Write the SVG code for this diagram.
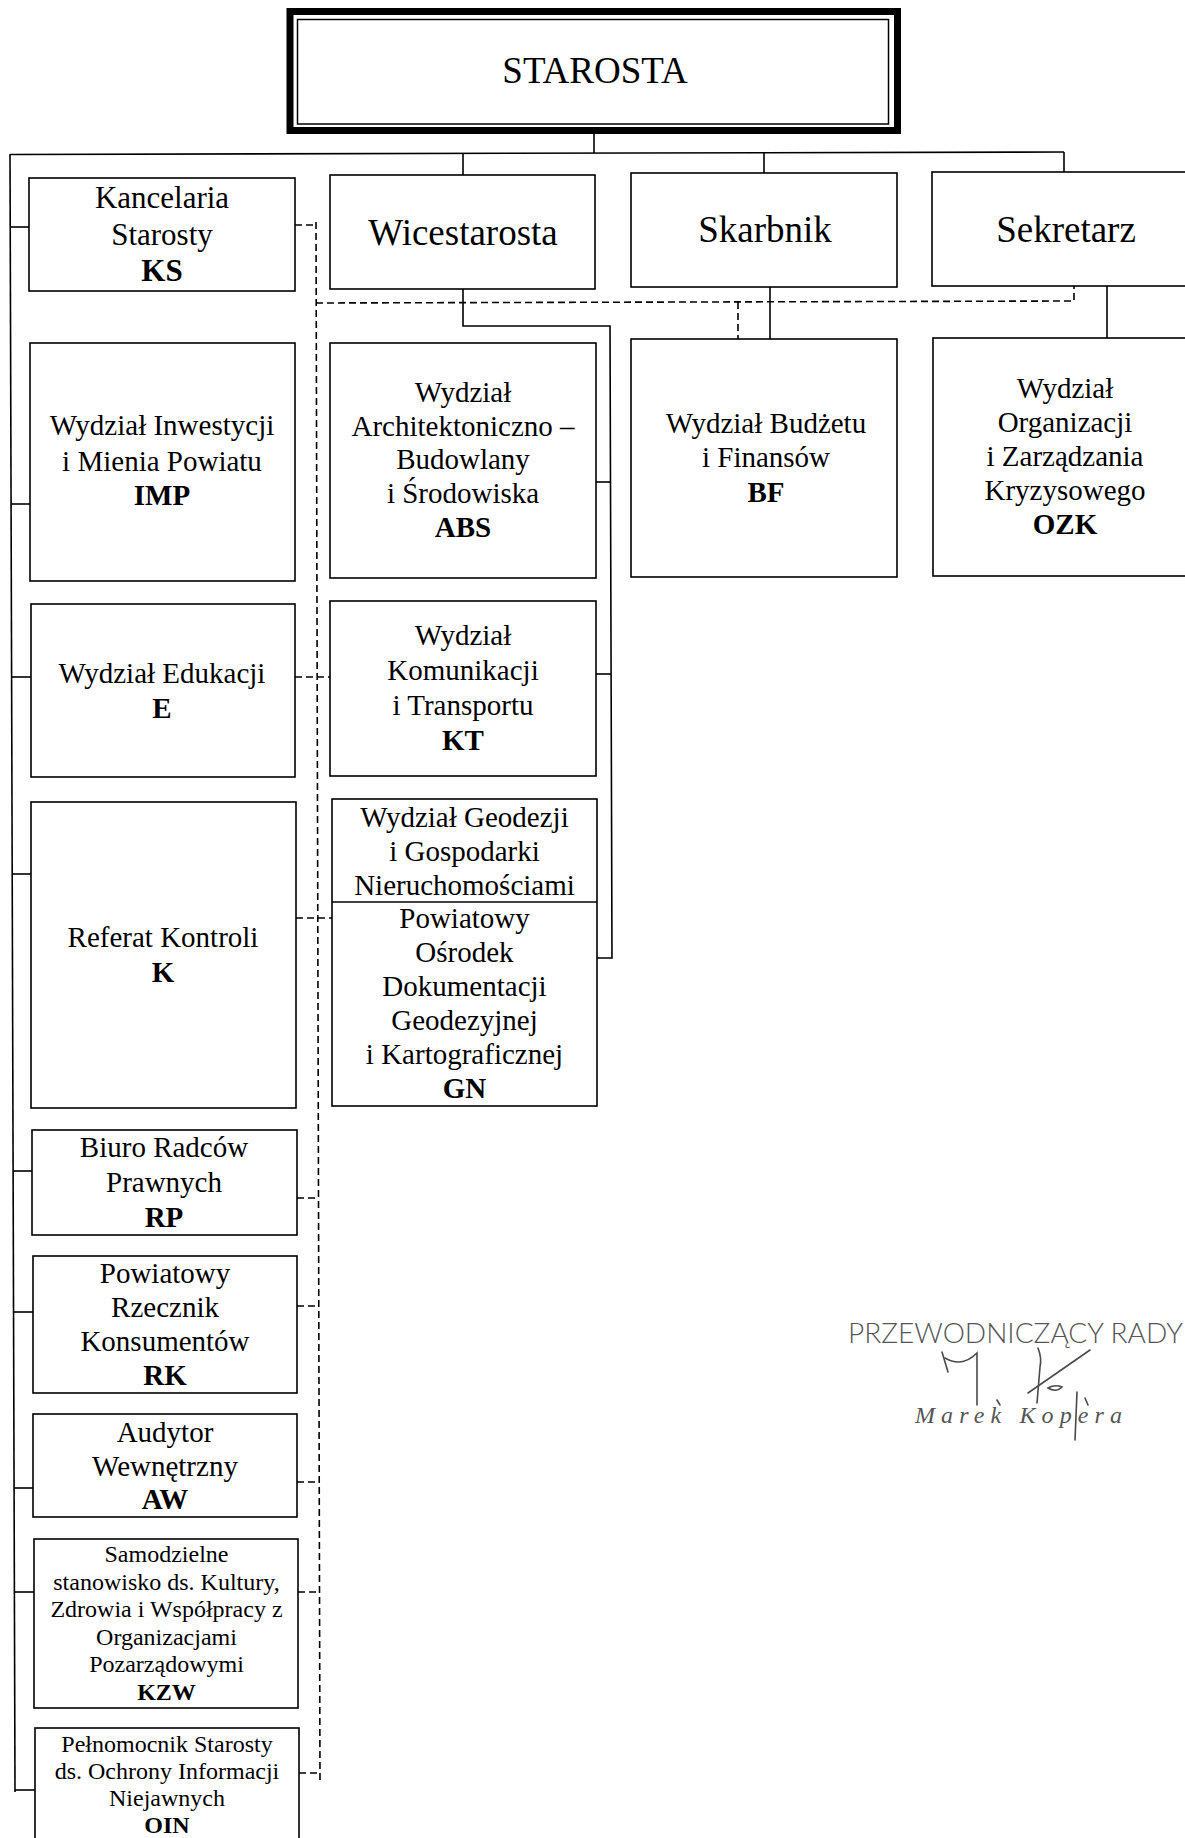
<svg xmlns="http://www.w3.org/2000/svg" width="1185" height="1838" viewBox="0 0 1185 1838">
<style>
.box{fill:#fff;stroke:#000;stroke-width:1.6}
.ln{fill:none;stroke:#000;stroke-width:1.6}
.dl{fill:none;stroke:#000;stroke-width:1.6;stroke-dasharray:7 4}
text{font-family:"Liberation Serif","Times New Roman",serif;fill:#000;text-anchor:middle}
.t{font-size:29px}
.b{font-size:29px;font-weight:bold}
.big{font-size:37px}
.ks{font-size:31px}
.ksb{font-size:31px;font-weight:bold}
.s{font-size:24px}
.sb{font-size:24px;font-weight:bold}
.sig{fill:none;stroke:#4a4a4a;stroke-width:1.6;stroke-linecap:round}
</style>
<rect width="1185" height="1838" fill="#fff"/>

<g id="connectors">
  <path class="ln" d="M594,134 V153"/>
  <path class="ln" d="M10,154.5 L1064,152"/>
  <path class="ln" d="M463,154 V175"/>
  <path class="ln" d="M764,153 V173"/>
  <path class="ln" d="M1064,152 V172"/>
  <path class="ln" d="M10,154 L15,1792"/>
  <path class="ln" d="M10,227 H29"/>
  <path class="ln" d="M11,504 H30"/>
  <path class="ln" d="M11.5,677 H31"/>
  <path class="ln" d="M12,874 H31"/>
  <path class="ln" d="M13,1171 H32"/>
  <path class="ln" d="M13.5,1312 H33"/>
  <path class="ln" d="M14,1488 H33"/>
  <path class="ln" d="M14.5,1592 H34"/>
  <path class="ln" d="M15,1790 H35"/>
  <path class="ln" d="M463,289 V326 H610 L612,958 H597"/>
  <path class="ln" d="M596,482 H610.5"/>
  <path class="ln" d="M596,674 H611"/>
  <path class="ln" d="M770,287 V339"/>
  <path class="ln" d="M1107,286 V338"/>
  <path class="dl" d="M295,225 H316"/>
  <path class="dl" d="M316,222 L320,1783"/>
  <path class="dl" d="M316,303 L1074,301 V286"/>
  <path class="dl" d="M738,302 V339"/>
  <path class="dl" d="M295,677 H330"/>
  <path class="dl" d="M296,918 H332"/>
  <path class="dl" d="M297,1198 H318"/>
  <path class="dl" d="M297,1306 H318.5"/>
  <path class="dl" d="M297,1482 H319"/>
  <path class="dl" d="M298,1592 H319.5"/>
  <path class="dl" d="M299,1773 H320"/>
</g>

<g id="starosta">
  <rect x="290" y="11.5" width="607.5" height="119" fill="#fff" stroke="#000" stroke-width="7"/>
  <rect x="297.5" y="19.5" width="591" height="104.5" fill="none" stroke="#000" stroke-width="1.5"/>
  <text class="big" x="595" y="83">STAROSTA</text>
</g>

<g id="ks">
  <rect class="box" x="29" y="178" width="266" height="113"/>
  <text class="ks" x="162" y="208">Kancelaria</text>
  <text class="ks" x="162" y="244.5">Starosty</text>
  <text class="ksb" x="162" y="281">KS</text>
</g>

<g id="wicestarosta">
  <rect class="box" x="330" y="175" width="265" height="114"/>
  <text class="big" x="463" y="245">Wicestarosta</text>
</g>

<g id="skarbnik">
  <rect class="box" x="631" y="173" width="266" height="114"/>
  <text class="big" x="765" y="242">Skarbnik</text>
</g>

<g id="sekretarz">
  <rect class="box" x="932" y="172" width="268" height="114"/>
  <text class="big" x="1066" y="242">Sekretarz</text>
</g>

<g id="imp">
  <rect class="box" x="30" y="343" width="265" height="238"/>
  <text class="t" x="162" y="435">Wydział Inwestycji</text>
  <text class="t" x="162" y="471">i Mienia Powiatu</text>
  <text class="b" x="162" y="505">IMP</text>
</g>

<g id="abs">
  <rect class="box" x="330" y="343" width="266" height="235"/>
  <text class="t" x="463" y="402">Wydział</text>
  <text class="t" x="463" y="435.5">Architektoniczno –</text>
  <text class="t" x="463" y="469">Budowlany</text>
  <text class="t" x="463" y="502.5">i Środowiska</text>
  <text class="b" x="463" y="537">ABS</text>
</g>

<g id="bf">
  <rect class="box" x="631" y="339" width="266" height="238"/>
  <text class="t" x="766" y="433">Wydział Budżetu</text>
  <text class="t" x="766" y="467">i Finansów</text>
  <text class="b" x="766" y="502">BF</text>
</g>

<g id="ozk">
  <rect class="box" x="933" y="338" width="267" height="238"/>
  <text class="t" x="1065" y="398">Wydział</text>
  <text class="t" x="1065" y="432">Organizacji</text>
  <text class="t" x="1065" y="466">i Zarządzania</text>
  <text class="t" x="1065" y="500">Kryzysowego</text>
  <text class="b" x="1065" y="534">OZK</text>
</g>

<g id="e">
  <rect class="box" x="31" y="604" width="264" height="173"/>
  <text class="t" x="162" y="683">Wydział Edukacji</text>
  <text class="b" x="162" y="718">E</text>
</g>

<g id="kt">
  <rect class="box" x="330" y="601" width="266" height="175"/>
  <text class="t" x="463" y="645">Wydział</text>
  <text class="t" x="463" y="680">Komunikacji</text>
  <text class="t" x="463" y="715">i Transportu</text>
  <text class="b" x="463" y="750">KT</text>
</g>

<g id="k">
  <rect class="box" x="31" y="802" width="265" height="306"/>
  <text class="t" x="163" y="947">Referat Kontroli</text>
  <text class="b" x="163" y="982">K</text>
</g>

<g id="gn">
  <rect class="box" x="332" y="799" width="265" height="307"/>
  <path class="ln" d="M332,902 H597"/>
  <text class="t" x="464.5" y="827">Wydział Geodezji</text>
  <text class="t" x="464.5" y="861">i Gospodarki</text>
  <text class="t" x="464.5" y="895">Nieruchomościami</text>
  <text class="t" x="464.5" y="928">Powiatowy</text>
  <text class="t" x="464.5" y="962">Ośrodek</text>
  <text class="t" x="464.5" y="996">Dokumentacji</text>
  <text class="t" x="464.5" y="1030">Geodezyjnej</text>
  <text class="t" x="464.5" y="1064">i Kartograficznej</text>
  <text class="b" x="464.5" y="1098">GN</text>
</g>

<g id="rp">
  <rect class="box" x="32" y="1130" width="265" height="105"/>
  <text class="t" x="164" y="1157">Biuro Radców</text>
  <text class="t" x="164" y="1192">Prawnych</text>
  <text class="b" x="164" y="1227">RP</text>
</g>

<g id="rk">
  <rect class="box" x="33" y="1256" width="264" height="137"/>
  <text class="t" x="165" y="1283">Powiatowy</text>
  <text class="t" x="165" y="1317">Rzecznik</text>
  <text class="t" x="165" y="1351">Konsumentów</text>
  <text class="b" x="165" y="1385">RK</text>
</g>

<g id="aw">
  <rect class="box" x="33" y="1414" width="264" height="103"/>
  <text class="t" x="165" y="1442">Audytor</text>
  <text class="t" x="165" y="1475.5">Wewnętrzny</text>
  <text class="b" x="165" y="1509">AW</text>
</g>

<g id="kzw">
  <rect class="box" x="34" y="1539" width="264" height="169"/>
  <text class="s" x="166.5" y="1562">Samodzielne</text>
  <text class="s" x="166.5" y="1590">stanowisko ds. Kultury,</text>
  <text class="s" x="166.5" y="1617">Zdrowia i Współpracy z</text>
  <text class="s" x="166.5" y="1645">Organizacjami</text>
  <text class="s" x="166.5" y="1672">Pozarządowymi</text>
  <text class="sb" x="166.5" y="1700">KZW</text>
</g>

<g id="oin">
  <rect class="box" x="35" y="1728" width="264" height="130"/>
  <text class="s" x="167" y="1752">Pełnomocnik Starosty</text>
  <text class="s" x="167" y="1779">ds. Ochrony Informacji</text>
  <text class="s" x="167" y="1806">Niejawnych</text>
  <text class="sb" x="167" y="1833">OIN</text>
</g>

<g id="signature">
  <text x="848" y="1343" textLength="335" lengthAdjust="spacingAndGlyphs" style="font-family:Lato,'DejaVu Sans',sans-serif;font-size:27px;font-weight:300;fill:#555;text-anchor:start">PRZEWODNICZĄCY RADY</text>
  <text x="915" y="1423" textLength="207" lengthAdjust="spacing" style="font-family:'Liberation Serif',serif;font-size:24px;font-style:italic;fill:#555;text-anchor:start">Marek Kopera</text>
  <path class="sig" d="M942,1352 L948,1372"/>
  <path class="sig" d="M945,1358 Q962,1368 977,1353 L977,1405"/>
  <path class="sig" d="M997,1400 L1000,1405"/>
  <path class="sig" d="M1038,1348 Q1042,1358 1040,1367 L1037,1403"/>
  <path class="sig" d="M1028,1393 L1090,1350"/>
  <path class="sig" d="M1048,1388 Q1055,1384 1062,1387 Q1056,1393 1048,1388 Z"/>
  <path class="sig" d="M1077,1392 L1075,1440"/>
  <path class="sig" d="M1085,1398 L1088,1405"/>
</g>
</svg>
